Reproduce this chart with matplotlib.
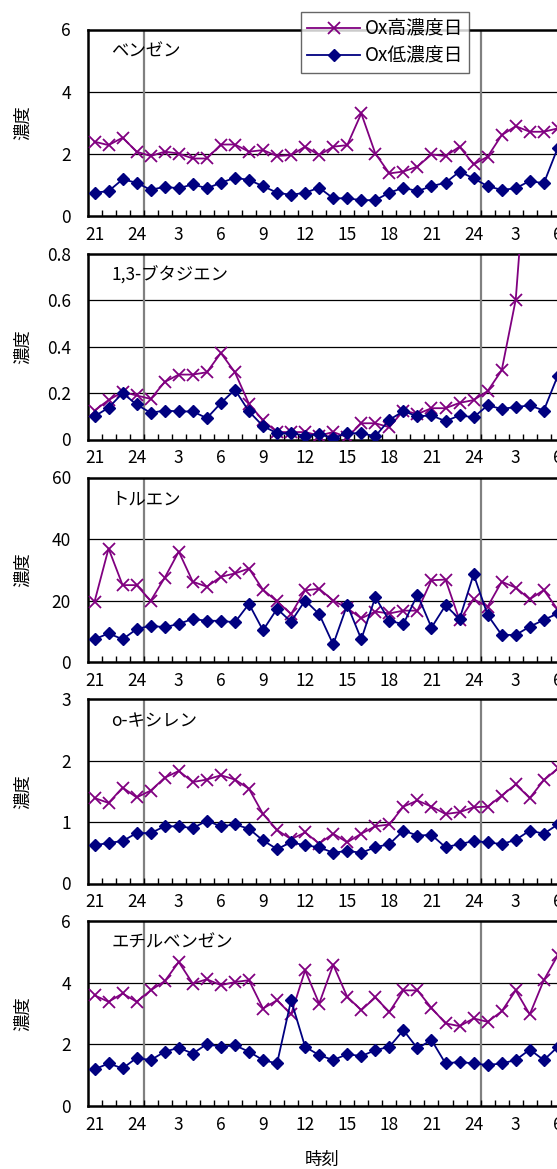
import matplotlib
matplotlib.use("Agg")
import matplotlib.pyplot as plt
from matplotlib.ticker import FixedLocator

plt.rcParams['font.family'] = ['Noto Sans CJK JP', 'DejaVu Sans']

# hourly categories, 21h of day 1 through 6h of day 3
hours = [21, 22, 23, 24,
         1, 2, 3, 4, 5, 6, 7, 8, 9, 10, 11, 12,
         13, 14, 15, 16, 17, 18, 19, 20, 21, 22, 23, 24,
         1, 2, 3, 4, 5, 6]
tick_hours = ['21', '24', '3', '6', '9', '12', '15', '18', '21', '24', '3', '6']

names = ['ベンゼン', '1,3-ブタジエン', 'トルエン', 'o-キシレン', 'エチルベンゼン']
ymax = [6, 0.8, 60, 3, 6]
ystep = [2, 0.2, 20, 1, 2]

benzene_high = [2.39, 2.28, 2.52, 2.07, 1.93, 2.07, 2.01, 1.85, 1.85, 2.30, 2.30, 2.07,
                2.12, 1.93, 1.96, 2.23, 1.96, 2.23, 2.28, 3.30, 2.01, 1.37, 1.43, 1.59,
                1.98, 1.93, 2.23, 1.66, 1.91, 2.60, 2.89, 2.71, 2.71, 2.82]
benzene_low = [0.75, 0.80, 1.18, 1.07, 0.84, 0.94, 0.89, 1.02, 0.89, 1.07, 1.23, 1.16,
               0.96, 0.75, 0.68, 0.75, 0.91, 0.57, 0.57, 0.51, 0.51, 0.75, 0.91, 0.80,
               0.96, 1.07, 1.43, 1.21, 0.96, 0.84, 0.89, 1.13, 1.05, 2.20]

butadiene_high = [0.125, 0.17, 0.205, 0.19, 0.175, 0.248, 0.28, 0.28, 0.29, 0.373, 0.29, 0.154,
                  0.082, 0.032, 0.032, 0.032, 0.017, 0.032, 0.01, 0.07, 0.07, 0.053, 0.125, 0.11,
                  0.135, 0.135, 0.158, 0.17, 0.209, 0.298, 0.603, 1.4, 1.2, 1.0]
butadiene_low = [0.10, 0.137, 0.20, 0.151, 0.115, 0.125, 0.121, 0.121, 0.092, 0.157, 0.215, 0.121,
                 0.058, 0.027, 0.027, 0.017, 0.022, 0.007, 0.027, 0.027, 0.014, 0.085, 0.122, 0.10,
                 0.104, 0.079, 0.104, 0.096, 0.147, 0.132, 0.14, 0.147, 0.125, 0.276]

toluene_high = [19.6, 36.9, 25.0, 25.0, 19.9, 27.4, 35.9, 26.1, 24.5, 27.7, 28.8, 30.4,
                23.5, 19.7, 15.6, 23.3, 23.8, 20.0, 17.5, 14.2, 16.4, 15.8, 16.7, 16.7,
                26.6, 26.8, 13.6, 20.4, 18.0, 26.1, 24.2, 20.4, 23.4, 17.0]
toluene_low = [7.4, 9.3, 7.4, 10.7, 11.8, 11.3, 12.4, 14.0, 13.4, 13.4, 12.9, 18.9,
               10.3, 17.3, 13.1, 20.0, 15.6, 5.7, 18.6, 7.4, 21.1, 13.4, 12.3, 21.9,
               11.2, 18.4, 14.0, 28.5, 15.3, 8.8, 8.8, 11.5, 13.7, 15.8]

xylene_high = [1.39, 1.31, 1.56, 1.40, 1.51, 1.72, 1.83, 1.65, 1.69, 1.76, 1.69, 1.54,
               1.13, 0.87, 0.72, 0.83, 0.65, 0.81, 0.67, 0.81, 0.93, 0.96, 1.25, 1.35,
               1.25, 1.13, 1.16, 1.24, 1.25, 1.43, 1.61, 1.39, 1.68, 1.87]
xylene_low = [0.62, 0.66, 0.69, 0.82, 0.82, 0.93, 0.93, 0.90, 1.02, 0.93, 0.96, 0.89,
              0.70, 0.56, 0.67, 0.62, 0.59, 0.50, 0.53, 0.50, 0.59, 0.64, 0.86, 0.78,
              0.79, 0.59, 0.64, 0.69, 0.67, 0.64, 0.71, 0.86, 0.81, 0.96]

ethylbenzene_high = [3.59, 3.38, 3.65, 3.38, 3.75, 4.05, 4.67, 3.97, 4.11, 3.92, 4.02, 4.08,
                     3.16, 3.43, 2.97, 4.40, 3.32, 4.58, 3.54, 3.11, 3.52, 3.05, 3.75, 3.75,
                     3.18, 2.68, 2.59, 2.84, 2.73, 3.07, 3.75, 2.97, 4.08, 4.89]
ethylbenzene_low = [1.19, 1.38, 1.22, 1.56, 1.49, 1.76, 1.89, 1.70, 2.01, 1.92, 1.97, 1.76,
                    1.49, 1.38, 3.43, 1.92, 1.65, 1.49, 1.68, 1.62, 1.81, 1.92, 2.46, 1.87,
                    2.14, 1.38, 1.43, 1.38, 1.33, 1.38, 1.49, 1.83, 1.49, 1.92]

high_days = [benzene_high, butadiene_high, toluene_high, xylene_high, ethylbenzene_high]
low_days = [benzene_low, butadiene_low, toluene_low, xylene_low, ethylbenzene_low]

W, H = 557, 1169
fig = plt.figure(figsize=(W / 100, H / 100), dpi=100)

# panel layout in pixels (top, bottom); axes run off the right edge like the source
tops = [29.5, 254, 477.5, 699, 921]
bottoms = [216, 439.5, 662, 883.5, 1106]
left_px = 87.5
cat_px = 14.04
n_show = 36

x = list(range(len(hours)))
purple = '#800080'
navy = '#000080'

for i in range(5):
    ax = fig.add_axes([left_px / W, 1 - bottoms[i] / H,
                       n_show * cat_px / W, (bottoms[i] - tops[i]) / H])
    ax.set_xlim(-0.5, n_show - 0.5)
    ax.set_ylim(0, ymax[i])

    # gridlines and the day boundaries
    yt = [ystep[i] * k for k in range(int(round(ymax[i] / ystep[i])) + 1)]
    for v in yt[1:-1]:
        ax.axhline(v, color='black', lw=0.9, zorder=1)
    for b in (3.5, 27.5):
        ax.axvline(b, color='#808080', lw=1.6, zorder=1)

    ax.plot(x, high_days[i], color=purple, lw=1.3, marker='x', ms=8, mew=1.3,
            zorder=3, label='Ox高濃度日')
    ax.plot(x, low_days[i], color=navy, lw=1.3, marker='D', ms=6, mec=navy,
            zorder=4, label='Ox低濃度日')

    for s in ax.spines.values():
        s.set_linewidth(1.8)

    ax.set_yticks(yt)
    if ymax[i] < 1:
        ax.set_yticklabels(['0' if v == 0 else '%.1f' % v for v in yt])
    else:
        ax.set_yticklabels(['%d' % v for v in yt])
    ax.tick_params(axis='y', length=0, pad=12, labelsize=12.5)

    ax.set_xticks(list(range(0, len(hours), 3)))
    ax.set_xticklabels(tick_hours)
    ax.xaxis.set_minor_locator(FixedLocator([k + 0.5 for k in range(n_show - 1)]))
    ax.tick_params(axis='x', which='major', length=0, pad=7, labelsize=12.5)
    ax.tick_params(axis='x', which='minor', direction='in', length=4.5, width=1)

    ax.text(0.047, 0.882, names[i], transform=ax.transAxes, fontsize=12.5,
            ha='left', va='center')
    fig.text(23 / W, 1 - (tops[i] + bottoms[i]) / 2 / H, '濃度', rotation=90,
             ha='center', va='center', fontsize=12.5)

    if i == 0:
        handles, labels = ax.get_legend_handles_labels()

leg = fig.legend(handles, labels, loc='upper left',
                 bbox_to_anchor=(300.7 / W, 1 - 11.7 / H), borderaxespad=0,
                 fontsize=13.5, frameon=True, fancybox=False, handlelength=2.8,
                 handletextpad=0.25, labelspacing=0.35, borderpad=0.35)
leg.get_frame().set_edgecolor('#404040')
leg.get_frame().set_linewidth(1.0)

fig.text(322 / W, 1 - 1160 / H, '時刻', ha='center', va='center', fontsize=12.5)

fig.savefig('out.png', dpi=100)
